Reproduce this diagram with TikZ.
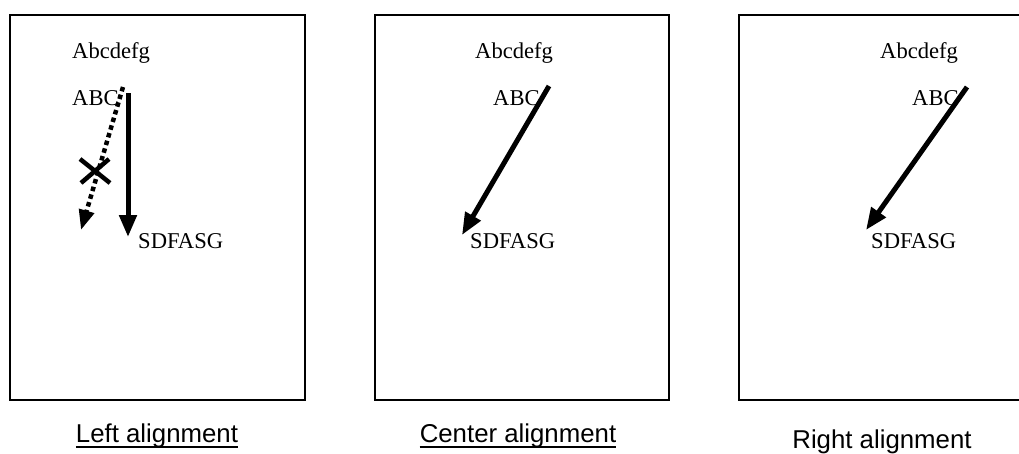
\documentclass[tikz,border=0pt]{standalone}
\usepackage{fontspec}
\setmainfont{Liberation Serif}
\newfontfamily\capfont{Liberation Sans}
\usetikzlibrary{arrows.meta}
\begin{document}
\begin{tikzpicture}[x=1pt,y=-1pt,
  frame/.style={draw,line width=1.6pt},
  word/.style={anchor=base west,inner sep=0pt,font=\fontsize{22.6}{26}\selectfont},
  caption/.style={anchor=base,inner sep=0pt,font=\capfont\fontsize{25.8}{30}\selectfont},
  move/.style={line width=5pt,-{Triangle[length=22pt,width=17pt]}},
  wrong/.style={line width=4.5pt,dash pattern=on 4.5pt off 3.5pt,-{Triangle[length=20pt,width=15pt]}},
  uline/.style={line width=2pt}]
\clip (0,0) rectangle (1019,453);
% left alignment
\draw[frame] (10,15) rectangle (305,400);
\node[word] (tL) at (72,58) {Abcdefg};
\node[word] (aL) at (72,105) {ABC};
\node[word] (sL) at (138,248) {SDFASG};
\coordinate (pL) at (128,93); \coordinate (qL) at (128,237);
\coordinate (dL) at (123,87); \coordinate (eL) at (81,230);
\coordinate (xL) at (95,171);
\draw[move] (pL) -- (qL);
\draw[wrong] (dL) -- (eL);
\draw[line width=4.5pt] ([shift={(-15,-12)}]xL) -- ([shift={(15,12)}]xL)
  ([shift={(-14,12)}]xL) -- ([shift={(14,-12)}]xL);
\node[caption] (cL) at (157,442) {Left alignment};
\draw[uline] ([yshift=-5pt]cL.base west) -- ([yshift=-5pt]cL.base east);
% center alignment
\draw[frame] (375,15) rectangle (669,400);
\node[word] (tC) at (475,58) {Abcdefg};
\node[word] (aC) at (493,105) {ABC};
\node[word] (sC) at (470,248) {SDFASG};
\coordinate (pC) at (549,86); \coordinate (qC) at (462,235);
\draw[move] (pC) -- (qC);
\node[caption] (cC) at (518,442) {Center alignment};
\draw[uline] ([yshift=-5pt]cC.base west) -- ([yshift=-5pt]cC.base east);
% right alignment
\draw[frame] (739,15) rectangle (1034,400);
\node[word] (tR) at (880,58) {Abcdefg};
\node[word] (aR) at (912,105) {ABC};
\node[word] (sR) at (871,248) {SDFASG};
\coordinate (pR) at (967,87); \coordinate (qR) at (866,230);
\draw[move] (pR) -- (qR);
\node[caption] (cR) at (882,448) {Right alignment};
\end{tikzpicture}
\end{document}
